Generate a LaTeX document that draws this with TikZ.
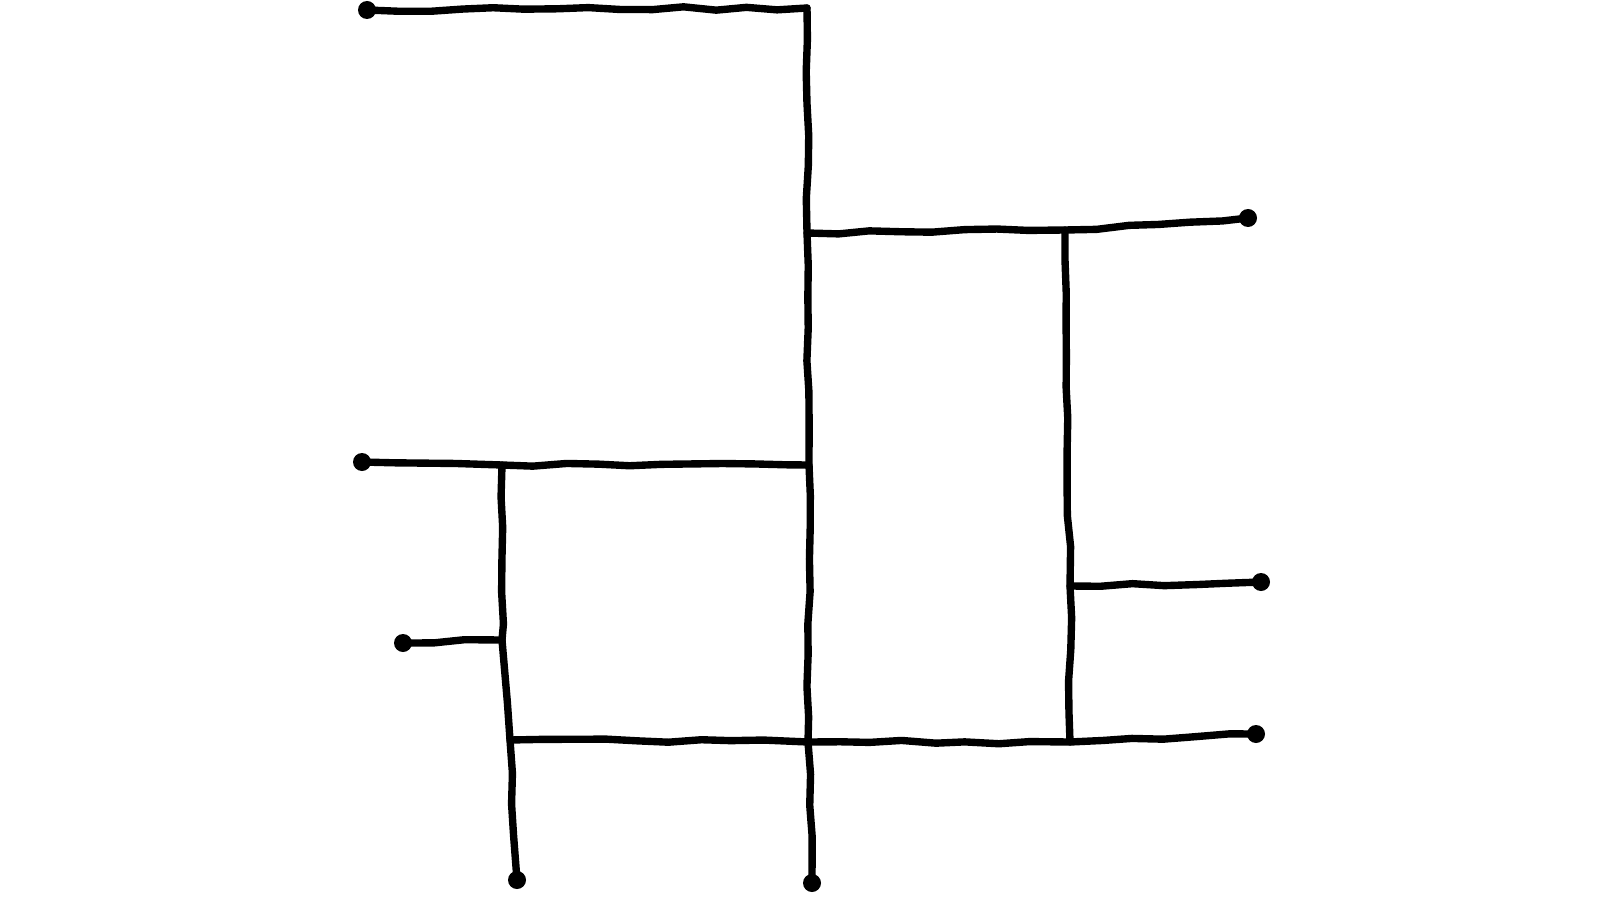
\documentclass[tikz,border=0pt]{standalone}
\usepackage{tikz}
\usetikzlibrary{decorations.pathmorphing}

\tikzset{
    wobbly/.style={line width=2.1pt, line cap=round, line join=round,
        decorate, decoration={random steps, segment length=9pt, amplitude=0.5pt}},
    leafdot/.style={fill=black}
}

\begin{document}
\begin{tikzpicture}
    \useasboundingbox (0,0) rectangle (16,9);
    \pgfmathsetseed{7}

    % Junctions on the main vertical line
    \coordinate (top) at (8.07,8.92);
    \coordinate (mainA) at (8.07,6.67);
    \coordinate (mainB) at (8.09,4.35);
    \coordinate (mainC) at (8.08,1.58);
    \coordinate (mainEnd) at (8.12,0.17);

    % Junctions on the right vertical line
    \coordinate (rightA) at (10.65,6.70);
    \coordinate (rightB) at (10.70,3.14);
    \coordinate (rightC) at (10.70,1.58);

    % Junctions on the left vertical line
    \coordinate (leftA) at (5.02,4.35);
    \coordinate (leftB) at (5.02,2.60);
    \coordinate (leftC) at (5.10,1.60);
    \coordinate (leftEnd) at (5.17,0.20);

    % Leaf ends
    \coordinate (leafTop) at (3.67,8.90);
    \coordinate (leafMid) at (3.62,4.38);
    \coordinate (leafSmall) at (4.03,2.57);
    \coordinate (leafRA) at (12.48,6.82);
    \coordinate (leafRB) at (12.61,3.18);
    \coordinate (leafRC) at (12.56,1.66);

    % Main vertical line
    \draw[wobbly] (top) -- (mainA) -- (mainB) -- (mainC) -- (mainEnd);
    % Top branch
    \draw[wobbly] (leafTop) -- (top);
    % Right part
    \draw[wobbly] (mainA) -- (rightA) -- (leafRA);
    \draw[wobbly] (rightA) -- (rightB) -- (rightC);
    \draw[wobbly] (rightB) -- (leafRB);
    % Left part
    \draw[wobbly] (leafMid) -- (leftA) -- (mainB);
    \draw[wobbly] (leftA) -- (leftB) -- (leftC) -- (leftEnd);
    \draw[wobbly] (leafSmall) -- (leftB);
    % Bottom line
    \draw[wobbly] (leftC) -- (mainC) -- (rightC) -- (leafRC);

    % Dots at the leaf ends
    \foreach \p in {leafTop,leafMid,leafSmall,leafRA,leafRB,leafRC,leftEnd,mainEnd}
        \fill[leafdot] (\p) circle (0.09);

\end{tikzpicture}
\end{document}
